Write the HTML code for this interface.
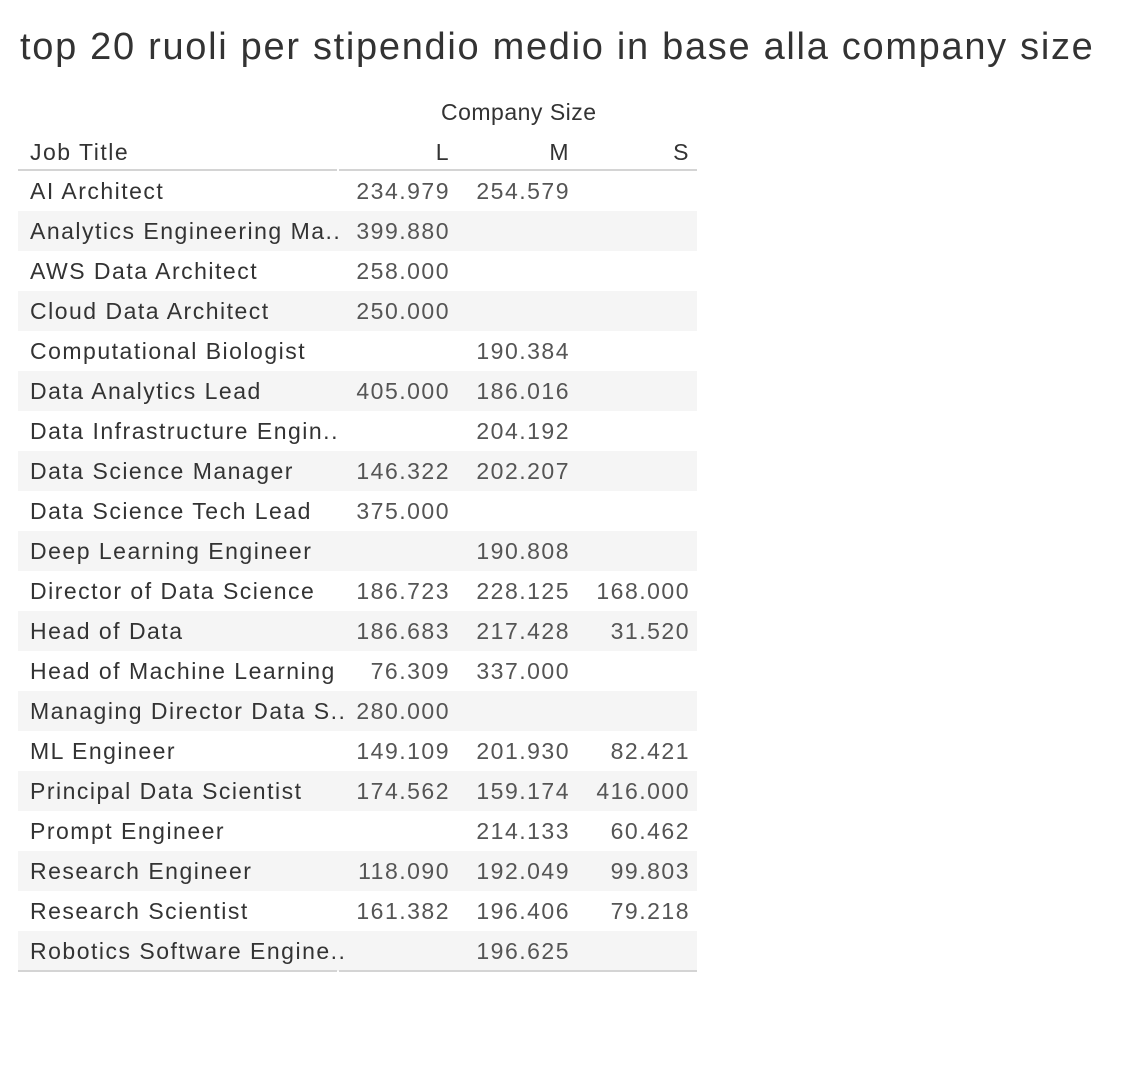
<!DOCTYPE html>
<html><head><meta charset="utf-8"><style>
body{margin:0;background:#fff;width:1133px;height:1070px;position:relative;overflow:hidden;font-family:"Liberation Sans",sans-serif;}
.t{position:absolute;white-space:nowrap;line-height:40px;letter-spacing:1.5px;}
</style></head><body>
<div class="t" style="left:20px;top:24px;font-size:38px;color:#333;line-height:46px;letter-spacing:1.7px;">top 20 ruoli per stipendio medio in base alla company size</div>
<div class="t" style="left:441px;top:92px;font-size:23px;color:#333;letter-spacing:0.5px;">Company Size</div>
<div class="t" style="left:30px;top:132px;font-size:23px;color:#333;">Job Title</div>
<div id="tbl"></div>
<script>
const titles=["AI Architect","Analytics Engineering Ma..","AWS Data Architect","Cloud Data Architect","Computational Biologist","Data Analytics Lead","Data Infrastructure Engin..","Data Science Manager","Data Science Tech Lead","Deep Learning Engineer","Director of Data Science","Head of Data","Head of Machine Learning","Managing Director Data S..","ML Engineer","Principal Data Scientist","Prompt Engineer","Research Engineer","Research Scientist","Robotics Software Engine.."];
const colL=["234.979","399.880","258.000","250.000","","405.000","","146.322","375.000","","186.723","186.683","76.309","280.000","149.109","174.562","","118.090","161.382",""];
const colM=["254.579","","","","190.384","186.016","204.192","202.207","","190.808","228.125","217.428","337.000","","201.930","159.174","214.133","192.049","196.406","196.625"];
const colS=["","","","","","","","","","","168.000","31.520","","","82.421","416.000","60.462","99.803","79.218",""];
const cols=["L","M","S"];
const tbl=document.getElementById('tbl');
const top0=171,rh=40,rights=[450,570,690];
function add(html,style){const d=document.createElement('div');d.className='t';d.setAttribute('style',style);d.textContent=html;tbl.appendChild(d);return d;}
cols.forEach((c,i)=>{const d=add(c,`right:${1133-rights[i]}px;top:132px;font-size:23px;color:#333;`);

});
titles.forEach((t,r)=>{
 const y=top0+r*rh;
 if(r%2==1){const b=document.createElement('div');b.setAttribute('style',`position:absolute;left:18px;width:679px;top:${y}px;height:${rh}px;background:#f5f5f5;`);
 
 
 tbl.appendChild(b);}
 const l=add(t,`left:30px;top:${y}px;font-size:23px;color:#333;`);
 
 
 [colL,colM,colS].forEach((a,i)=>{if(!a[r])return;
  const v=add(a[r],`right:${1133-rights[i]}px;top:${y}px;font-size:23px;color:#555;`);
  
  });
});
function line(x,w,y){const d=document.createElement('div');d.setAttribute('style',`position:absolute;left:${x}px;width:${w}px;top:${y}px;height:2px;background:#d4d4d4;`);


tbl.appendChild(d);}
line(18,319,169);line(339,358,169);
line(18,319,top0+titles.length*rh-1);line(339,358,top0+titles.length*rh-1);
</script>
</body></html>
